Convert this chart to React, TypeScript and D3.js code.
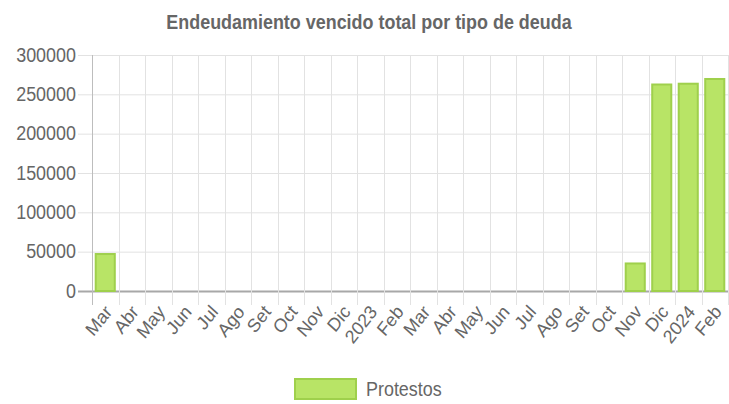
import React, { useEffect, useRef } from 'react';
import * as d3 from 'd3';

// Chart data
const TITLE = 'Endeudamiento vencido total por tipo de deuda';
const SERIES_NAME = 'Protestos';
const MONTHS = ['Mar', 'Abr', 'May', 'Jun', 'Jul', 'Ago', 'Set', 'Oct', 'Nov', 'Dic', '2023', 'Feb',
  'Mar', 'Abr', 'May', 'Jun', 'Jul', 'Ago', 'Set', 'Oct', 'Nov', 'Dic', '2024', 'Feb'];
const PROTESTOS = [47000, 0, 0, 0, 0, 0, 0, 0, 0, 0, 0, 0,
  0, 0, 0, 0, 0, 0, 0, 0, 35000, 262500, 263500, 269500];
const Y_TICKS = [0, 50000, 100000, 150000, 200000, 250000, 300000];

const App = () => {
  const svgRef = useRef<SVGSVGElement>(null);

  useEffect(() => {
    const svg = d3.select(svgRef.current);
    svg.selectAll('*').remove();

    const width = 729;
    const height = 404;
    const margin = { top: 55, right: 1, bottom: 113, left: 92 };
    const font = '"Liberation Sans", Arial, sans-serif';
    const textColor = '#666';
    const fill = '#b8e466';
    const border = '#9fd04c';
    const sx = 0.92; // text looks slightly condensed in the original

    svg.attr('width', width).attr('height', height);

    const x = d3.scaleBand<number>()
      .domain(MONTHS.map((_, i) => i))
      .range([margin.left, width - margin.right])
      .paddingInner(0)
      .paddingOuter(0);

    const y = d3.scaleLinear()
      .domain([0, 300000])
      .range([height - margin.bottom, margin.top]);

    const y0 = y(0);
    const tickLen = 14;

    // Title
    svg.append('text')
      .attr('transform', `translate(369,29) scale(${sx},1)`)
      .attr('text-anchor', 'middle')
      .attr('font-family', font)
      .attr('font-weight', 'bold')
      .attr('font-size', 19.5)
      .attr('fill', textColor)
      .text(TITLE);

    // Horizontal grid lines + y tick marks
    svg.append('g')
      .selectAll('line')
      .data(Y_TICKS)
      .enter().append('line')
      .attr('x1', margin.left - tickLen)
      .attr('x2', width - margin.right)
      .attr('y1', d => y(d) + 0.5)
      .attr('y2', d => y(d) + 0.5)
      .attr('stroke', d => (d === 0 ? '#a8a8a8' : '#e2e2e2'))
      .attr('stroke-width', d => (d === 0 ? 2 : 1));

    // Vertical grid lines (category boundaries) + x tick marks
    const bounds = MONTHS.map((_, i) => x(i)!).concat([width - margin.right]);
    svg.append('g')
      .selectAll('line')
      .data(bounds)
      .enter().append('line')
      .attr('x1', d => Math.round(d) + 0.5)
      .attr('x2', d => Math.round(d) + 0.5)
      .attr('y1', margin.top)
      .attr('y2', y0 + tickLen)
      .attr('stroke', (d, i) => (i === 0 ? '#bdbdbd' : '#e2e2e2'))
      .attr('stroke-width', 1);

    // Y tick labels
    svg.append('g')
      .selectAll('text')
      .data(Y_TICKS)
      .enter().append('text')
      .attr('transform', d => `translate(${margin.left - tickLen - 2},${y(d)}) scale(${sx},1)`)
      .attr('dy', '0.35em')
      .attr('text-anchor', 'end')
      .attr('font-family', font)
      .attr('font-size', 19.5)
      .attr('fill', textColor)
      .text(d => d);

    // X tick labels, rotated
    svg.append('g')
      .selectAll('text')
      .data(MONTHS)
      .enter().append('text')
      .attr('transform', (d, i) => `translate(${x(i)! + x.bandwidth() / 2 + 3},${y0 + tickLen + 3}) scale(${sx},1) rotate(-50)`)
      .attr('dy', '0.35em')
      .attr('text-anchor', 'end')
      .attr('font-family', font)
      .attr('font-size', 19)
      .attr('fill', textColor)
      .text(d => d);

    // Bars
    const barW = x.bandwidth() * 0.72;
    svg.append('g')
      .selectAll('rect')
      .data(PROTESTOS.map((v, i) => ({ v, i })).filter(d => d.v > 0))
      .enter().append('rect')
      .attr('x', d => x(d.i)! + (x.bandwidth() - barW) / 2)
      .attr('y', d => y(d.v))
      .attr('width', barW)
      .attr('height', d => y0 - y(d.v))
      .attr('fill', fill)
      .attr('stroke', border)
      .attr('stroke-width', 2);

    // Legend
    const legend = svg.append('g');
    legend.append('rect')
      .attr('x', 295)
      .attr('y', 379)
      .attr('width', 61)
      .attr('height', 20)
      .attr('fill', fill)
      .attr('stroke', border)
      .attr('stroke-width', 2);
    legend.append('text')
      .attr('transform', `translate(366,389) scale(${sx},1)`)
      .attr('dy', '0.35em')
      .attr('font-family', font)
      .attr('font-size', 19.5)
      .attr('fill', textColor)
      .text(SERIES_NAME);
  }, []);

  return (
    <svg ref={svgRef} style={{ position: 'absolute', left: 0, top: 0, background: '#fff' }}></svg>
  );
};

export default App;
